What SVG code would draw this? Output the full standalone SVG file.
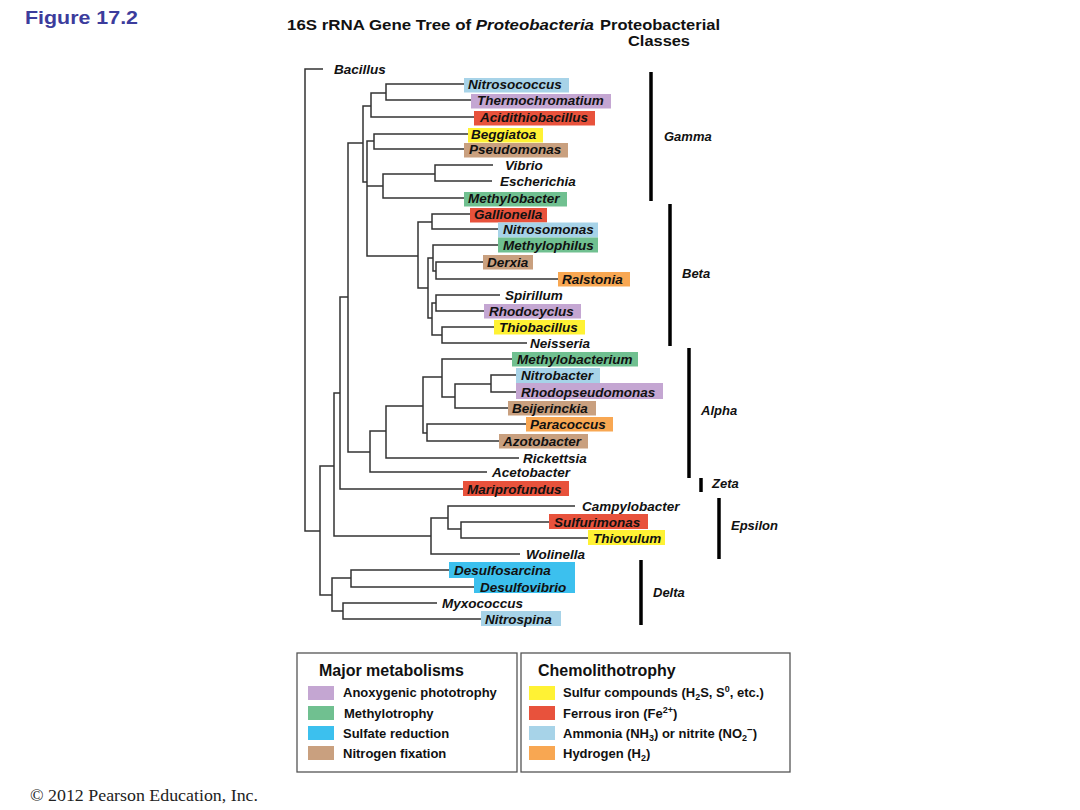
<svg xmlns="http://www.w3.org/2000/svg" width="1080" height="810" viewBox="0 0 1080 810">
<style>
.ln{stroke:#333;stroke-width:1.5;fill:none}
.lb{font-family:"Liberation Sans",Arial,sans-serif;font-weight:bold;font-style:italic;font-size:13.5px;fill:#111}
.cl{font-family:"Liberation Sans",Arial,sans-serif;font-weight:bold;font-style:italic;font-size:13px;fill:#111}
.bar{stroke:#000;stroke-width:3.5}
.hd{font-family:"Liberation Sans",Arial,sans-serif;font-weight:bold;fill:#111}
.lg{font-family:"Liberation Sans",Arial,sans-serif;font-weight:bold;font-size:13px;fill:#111}
.lgt{font-family:"Liberation Sans",Arial,sans-serif;font-weight:bold;font-size:16px;fill:#111}
.box{fill:#fff;stroke:#555;stroke-width:1.3}
.ph{fill:#c4a6d2}.me{fill:#70c090}.sr{fill:#3cc0ee}.nf{fill:#c9a07f}
.su{fill:#fff234}.fe{fill:#e8523c}.am{fill:#a7d3e8}.h2{fill:#f8a752}
</style>
<rect width="1080" height="810" fill="#fff"/>
<text x="25" y="24" class="hd" font-size="19" style="fill:#3c3c9c" textLength="113" lengthAdjust="spacingAndGlyphs">Figure 17.2</text>
<text x="287" y="30" class="hd" font-size="15" textLength="307" lengthAdjust="spacingAndGlyphs">16S rRNA Gene Tree of <tspan font-style="italic">Proteobacteria</tspan></text>
<text x="600" y="30" class="hd" font-size="15" textLength="120" lengthAdjust="spacingAndGlyphs">Proteobacterial</text>
<text x="628" y="46" class="hd" font-size="15" textLength="62" lengthAdjust="spacingAndGlyphs">Classes</text>

<g id="connectors">
<path class="ln" d="M323,69 H305 V531 H320"/>
<path class="ln" d="M334,466 H320 V595 H332"/>
<path class="ln" d="M340,393 H334 V536 H431"/>
<path class="ln" d="M348,297 H340 V489 H463"/>
<path class="ln" d="M363,143 H348 V452 H370"/>
<path class="ln" d="M371,106 H363 V182 H367"/>
<path class="ln" d="M386,93 H371 V117 H474"/>
<path class="ln" d="M464,84 H386 V100 H471"/>
<path class="ln" d="M374,141 H367 V256 H418 M367,186 H383"/>
<path class="ln" d="M468,134 H374 V149 H464"/>
<path class="ln" d="M435,174 H383 V198 H464"/>
<path class="ln" d="M493,165 H435 V181 H492"/>
<path class="ln" d="M432,222 H418 V288 H428"/>
<path class="ln" d="M470,214 H432 V229 H498"/>
<path class="ln" d="M433,258 H428 V318 H432"/>
<path class="ln" d="M498,245 H433 V271 H436"/>
<path class="ln" d="M483,262 H436 V279 H558"/>
<path class="ln" d="M436,303 H432 V335 H442"/>
<path class="ln" d="M500,295 H436 V311 H484"/>
<path class="ln" d="M494,327 H442 V343 H527"/>
<path class="ln" d="M386,431 H370 V472 H487"/>
<path class="ln" d="M423,406 H386 V458 H519"/>
<path class="ln" d="M442,377 H423 V433 H427"/>
<path class="ln" d="M512,359 H442 V397 H455"/>
<path class="ln" d="M491,384 H455 V408 H508"/>
<path class="ln" d="M516,375 H491 V392 H516"/>
<path class="ln" d="M526,424 H427 V441 H499"/>
<path class="ln" d="M448,518 H431 V554 H520"/>
<path class="ln" d="M575,506 H448 V529 H461"/>
<path class="ln" d="M549,522 H461 V538 H588"/>
<path class="ln" d="M351,578 H332 V611 H343"/>
<path class="ln" d="M449,570 H351 V587 H474"/>
<path class="ln" d="M437,603 H343 V619 H481"/>
</g>

<g id="Bacillus"><text class="lb" x="334" y="74">Bacillus</text></g>
<g id="Nitrosococcus"><rect class="am" x="464" y="78" width="105" height="14.5"/><text class="lb" x="468" y="89">Nitrosococcus</text></g>
<g id="Thermochromatium"><rect class="ph" x="471" y="94" width="140" height="14.5"/><text class="lb" x="477" y="105">Thermochromatium</text></g>
<g id="Acidithiobacillus"><rect class="fe" x="474" y="111" width="121" height="14.5"/><text class="lb" x="480" y="122">Acidithiobacillus</text></g>
<g id="Beggiatoa"><rect class="su" x="468" y="128" width="75" height="14.5"/><text class="lb" x="471" y="139">Beggiatoa</text></g>
<g id="Pseudomonas"><rect class="nf" x="464" y="143" width="104" height="14.5"/><text class="lb" x="469" y="154">Pseudomonas</text></g>
<g id="Vibrio"><text class="lb" x="505" y="170">Vibrio</text></g>
<g id="Escherichia"><text class="lb" x="500" y="186">Escherichia</text></g>
<g id="Methylobacter"><rect class="me" x="464" y="192" width="103" height="14.5"/><text class="lb" x="468" y="203">Methylobacter</text></g>
<g id="Gallionella"><rect class="fe" x="470" y="208" width="77" height="14.5"/><text class="lb" x="474" y="219">Gallionella</text></g>
<g id="Nitrosomonas"><rect class="am" x="498" y="222.5" width="100" height="15"/><text class="lb" x="503" y="234">Nitrosomonas</text></g>
<g id="Methylophilus"><rect class="me" x="498" y="237.5" width="100" height="15"/><text class="lb" x="503" y="250">Methylophilus</text></g>
<g id="Derxia"><rect class="nf" x="483" y="255" width="50" height="14.5"/><text class="lb" x="487" y="267">Derxia</text></g>
<g id="Ralstonia"><rect class="h2" x="558" y="272" width="72" height="14.5"/><text class="lb" x="562" y="284">Ralstonia</text></g>
<g id="Spirillum"><text class="lb" x="505" y="300">Spirillum</text></g>
<g id="Rhodocyclus"><rect class="ph" x="484" y="304" width="97" height="14.5"/><text class="lb" x="489" y="316">Rhodocyclus</text></g>
<g id="Thiobacillus"><rect class="su" x="494" y="320" width="91" height="14.5"/><text class="lb" x="499" y="332">Thiobacillus</text></g>
<g id="Neisseria"><text class="lb" x="530" y="348">Neisseria</text></g>
<g id="Methylobacterium"><rect class="me" x="512" y="352" width="126" height="14.5"/><text class="lb" x="517" y="364">Methylobacterium</text></g>
<g id="Nitrobacter"><rect class="am" x="516" y="368" width="84" height="15"/><text class="lb" x="521" y="380">Nitrobacter</text></g>
<g id="Rhodopseudomonas"><rect class="ph" x="516" y="383" width="147" height="16"/><text class="lb" x="521" y="397">Rhodopseudomonas</text></g>
<g id="Beijerinckia"><rect class="nf" x="508" y="401" width="88" height="14.5"/><text class="lb" x="512" y="413">Beijerinckia</text></g>
<g id="Paracoccus"><rect class="h2" x="526" y="417" width="87" height="14.5"/><text class="lb" x="530" y="429">Paracoccus</text></g>
<g id="Azotobacter"><rect class="nf" x="499" y="434" width="89" height="14.5"/><text class="lb" x="503" y="446">Azotobacter</text></g>
<g id="Rickettsia"><text class="lb" x="523" y="463">Rickettsia</text></g>
<g id="Acetobacter"><text class="lb" x="492" y="477">Acetobacter</text></g>
<g id="Mariprofundus"><rect class="fe" x="463" y="481" width="106" height="15"/><text class="lb" x="467" y="494">Mariprofundus</text></g>
<g id="Campylobacter"><text class="lb" x="582" y="511">Campylobacter</text></g>
<g id="Sulfurimonas"><rect class="fe" x="549" y="514" width="99" height="15"/><text class="lb" x="554" y="527">Sulfurimonas</text></g>
<g id="Thiovulum"><rect class="su" x="588" y="530" width="77" height="15"/><text class="lb" x="593" y="543">Thiovulum</text></g>
<g id="Wolinella"><text class="lb" x="526" y="559">Wolinella</text></g>
<g id="Desulfosarcina"><rect class="sr" x="449" y="562" width="126" height="16"/><text class="lb" x="454" y="575">Desulfosarcina</text></g>
<g id="Desulfovibrio"><rect class="sr" x="474" y="577" width="101" height="16"/><text class="lb" x="480" y="592">Desulfovibrio</text></g>
<g id="Myxococcus"><text class="lb" x="442" y="608">Myxococcus</text></g>
<g id="Nitrospina"><rect class="am" x="481" y="611" width="80" height="15"/><text class="lb" x="485" y="624">Nitrospina</text></g>

<g id="classes">
<line class="bar" x1="651" y1="72" x2="651" y2="201"/><text class="cl" x="664" y="141">Gamma</text>
<line class="bar" x1="670" y1="204" x2="670" y2="346"/><text class="cl" x="682" y="278">Beta</text>
<line class="bar" x1="689" y1="348" x2="689" y2="478"/><text class="cl" x="701" y="415">Alpha</text>
<line class="bar" x1="701" y1="478" x2="701" y2="492"/><text class="cl" x="712" y="488">Zeta</text>
<line class="bar" x1="719" y1="498" x2="719" y2="559"/><text class="cl" x="731" y="530">Epsilon</text>
<line class="bar" x1="641" y1="560" x2="641" y2="625"/><text class="cl" x="653" y="597">Delta</text>
</g>

<g id="legend-major">
<rect class="box" x="297" y="653" width="220" height="119"/>
<text class="lgt" x="319" y="676">Major metabolisms</text>
<rect class="ph" x="308" y="686" width="26" height="14"/><text class="lg" x="343" y="697">Anoxygenic phototrophy</text>
<rect class="me" x="308" y="706" width="26" height="14"/><text class="lg" x="344" y="718">Methylotrophy</text>
<rect class="sr" x="308" y="726" width="26" height="14"/><text class="lg" x="343" y="738">Sulfate reduction</text>
<rect class="nf" x="308" y="746" width="26" height="14"/><text class="lg" x="343" y="758">Nitrogen fixation</text>
</g>
<g id="legend-chemo">
<rect class="box" x="521" y="653" width="269" height="119"/>
<text class="lgt" x="538" y="676">Chemolithotrophy</text>
<rect class="su" x="529" y="686" width="26" height="14"/><text class="lg" x="563" y="697">Sulfur compounds (H<tspan font-size="9" dy="3">2</tspan><tspan dy="-3">S, S</tspan><tspan font-size="9" dy="-5">0</tspan><tspan dy="5">, etc.)</tspan></text>
<rect class="fe" x="529" y="706" width="26" height="14"/><text class="lg" x="563" y="718">Ferrous iron (Fe<tspan font-size="9" dy="-5">2+</tspan><tspan dy="5">)</tspan></text>
<rect class="am" x="529" y="726" width="26" height="14"/><text class="lg" x="563" y="738">Ammonia (NH<tspan font-size="9" dy="3">3</tspan><tspan dy="-3">) or nitrite (NO</tspan><tspan font-size="9" dy="3">2</tspan><tspan font-size="10" dy="-8">–</tspan><tspan dy="5">)</tspan></text>
<rect class="h2" x="529" y="746" width="26" height="14"/><text class="lg" x="563" y="758">Hydrogen (H<tspan font-size="9" dy="3">2</tspan><tspan dy="-3">)</tspan></text>
</g>

<text x="30" y="801" font-family="'Liberation Serif','Times New Roman',serif" font-size="17" fill="#222" textLength="228" lengthAdjust="spacingAndGlyphs">© 2012 Pearson Education, Inc.</text>
</svg>
